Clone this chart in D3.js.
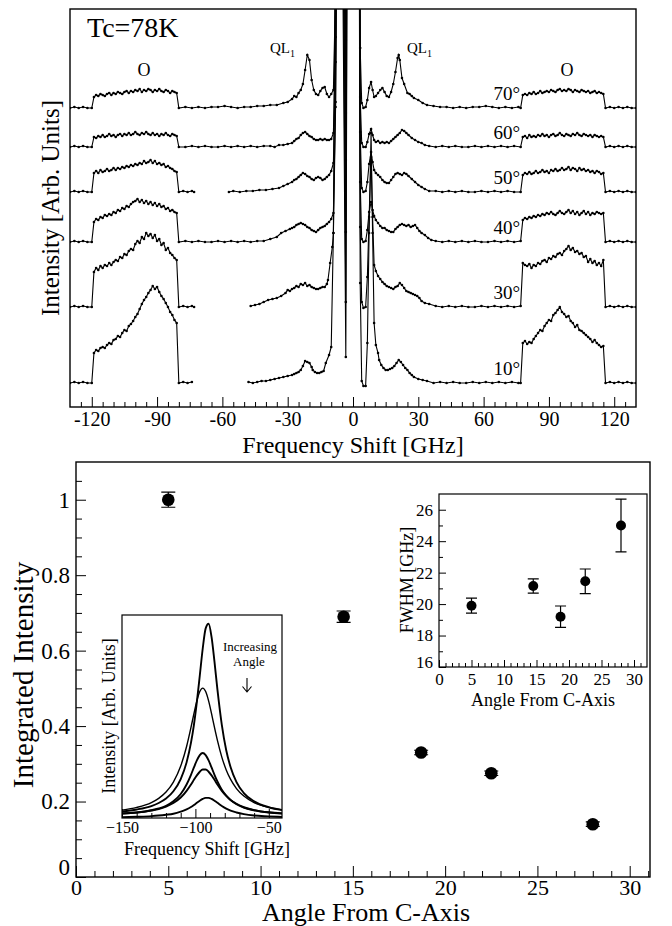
<!DOCTYPE html>
<html>
<head>
<meta charset="utf-8">
<title>Spectra vs angle</title>
<script src="https://cdnjs.cloudflare.com/ajax/libs/d3/7.8.5/d3.min.js"></script>
<style>
body { margin: 0; background: #fff; }
svg text { font-family: "Liberation Serif", "Times New Roman", serif; fill: #000; }
</style>
</head>
<body>
<script>
// ---------- top panel data: stacked spectra, values relative to each trace's baseline
var angles = [70, 60, 50, 40, 30, 10];
var baseOffsets = [299, 260, 215, 165, 100, 24];
var freqTicks = [-120, -90, -60, -30, 0, 30, 60, 90, 120];

var edgeL = [[-130,0],[-128,1],[-126,0],[-124,1],[-122,0],[-120,0]];
var edgeR = [[116,0],[118,1],[120,0],[122,1],[124,0],[126,1],[128,0],[130,0]];
var oLeftStart = -119, oRightStart = 78; // first O-band sample, 1 GHz apart

var oL70 = [11,13,12,14,13,12,14,15,13,15,14,16,15,14,16,17,15,17,16,18,17,19,16,18,17,19,18,16,18,17,19,17,16,18,17,15,17,16,15];
var oL60 = [10,9,11,10,12,10,11,13,11,12,10,12,13,11,13,12,14,12,13,15,13,12,14,13,15,13,12,14,12,13,11,13,12,14,12,11,13,12,11];
var oL50 = [19,21,19,22,20,21,23,21,22,24,22,24,23,25,24,26,25,27,26,28,27,29,28,31,29,30,32,29,31,28,29,27,28,25,26,24,23,21,20];
var oL40 = [20,23,22,25,24,27,26,28,27,30,29,32,31,34,33,36,35,38,40,41,43,40,42,39,41,38,40,37,39,36,38,35,36,33,34,31,32,30,29];
var oL30 = [35,39,37,41,39,42,41,44,42,45,47,46,50,49,53,52,56,58,57,63,66,64,70,68,74,71,73,69,72,66,68,62,64,57,59,54,52,49,47];
var oL10 = [30,33,32,35,36,35,38,40,39,43,44,47,46,50,53,52,57,59,62,66,69,74,79,83,86,90,93,97,94,96,91,87,84,80,76,71,68,63,60];

var oR70 = [13,14,13,15,14,16,14,15,17,15,16,17,16,18,17,16,18,19,17,18,17,19,18,16,18,17,16,18,17,16,17,15,16,17,15,16,15,14];
var oR60 = [10,11,9,12,10,11,10,12,11,13,11,12,10,12,13,11,12,14,12,11,13,12,11,13,12,14,12,11,13,12,11,12,10,12,11,10,11,10];
var oR50 = [17,19,18,20,18,19,21,19,20,22,20,21,19,22,21,23,21,22,24,22,23,25,22,24,23,21,24,22,23,21,22,20,21,19,21,20,18,19];
var oR40 = [22,24,23,25,24,26,25,27,26,28,27,29,28,30,28,27,29,31,29,28,30,32,29,31,28,30,27,29,31,28,30,27,29,28,30,29,28,29];
var oR30 = [44,42,41,43,39,42,41,44,43,46,47,45,49,48,51,50,53,54,52,56,58,61,57,59,55,56,53,54,50,51,45,48,44,46,42,44,41,47];
var oR10 = [40,42,39,41,40,44,47,50,53,52,57,60,63,62,68,70,73,76,71,69,66,67,62,60,56,58,53,52,50,48,46,44,41,43,40,38,36,37];

// between the O bands: [GHz, value]; null = no data; 500 = far off scale
var mid70 = [[-80,0],[-77,1],[-74,0],[-71,1],[-68,0],[-65,1],[-62,1],[-59,2],[-56,1],[-53,0],[-50,1],[-47,1],[-44,2],[-41,2],[-38,3],[-35,3],[-32,5],[-30,6],[-28,9],[-27,12],[-26,11],[-25,15],[-24,18],[-23,24],[-22,38],[-21,53],[-20,48],[-19,28],[-18,18],[-17,14],[-16,13],[-15,17],[-14,20],[-13,21],[-12,14],[-11,11],[-10,14],[-9,18],[-8,120],[-7,500],[-5,500],[-3.3,68],[-2.6,500],[0,500],[2.8,500],[3.3,60],[4,5],[4.8,0],[5.8,1],[6.6,8],[7.4,20],[8.3,26],[9,18],[9.7,11],[10.5,12],[11.5,15],[12.5,18],[13.5,20],[14.5,16],[15.5,12],[16.5,11],[17.5,16],[18.5,24],[19.5,36],[20.5,50],[21,53],[21.5,48],[22.5,30],[23.5,24],[25,15],[26,14],[27,12],[28,10],[30,8],[32,5],[34,3],[37,2],[40,1],[43,1],[46,0],[49,1],[52,0],[55,1],[58,1],[61,2],[64,1],[67,0],[70,1],[73,0],[76,1],[77,0]];
var mid60 = [[-80,0],[-77,0],[-74,1],[-71,0],[-68,1],[-65,0],[-62,0],[-59,1],[-56,0],[-53,1],[-50,0],[-47,1],[-44,0],[-41,1],[-38,1],[-36,0],[-34,2],[-32,2],[-30,3],[-28,4],[-27,6],[-26,8],[-25,9],[-24,12],[-23,14],[-22,15],[-21,13],[-20,11],[-19,10],[-18,8],[-17,7],[-16,7],[-15,8],[-14,7],[-13,8],[-12,7],[-11,7],[-10,8],[-9,14],[-8,110],[-7,500],[-5,500],[-3.3,34],[-2.6,500],[0,500],[2.8,500],[3.3,50],[4,4],[4.8,0],[5.8,0],[6.6,5],[7.4,13],[8.3,18],[9,12],[9.7,7],[10.5,5],[11.5,6],[12.5,4],[13.5,5],[14.5,4],[15.5,5],[16.5,4],[17.5,6],[18.5,8],[19.5,10],[20.5,12],[21.5,14],[22.5,17],[23.5,16],[24.5,14],[25.5,12],[27,9],[28.5,7],[30,5],[31.5,4],[33,2],[35,1],[38,0],[41,1],[44,0],[47,1],[50,0],[53,0],[56,1],[59,0],[62,1],[65,0],[68,1],[71,0],[74,1],[77,0]];
var mid50 = [[-80,0],[-78,1],[-76,0],[-74,1],[-73,0],[-72,null],[-58,null],[-57,0],[-55,1],[-52,0],[-49,1],[-46,1],[-43,2],[-40,2],[-37,3],[-34,4],[-32,6],[-30,8],[-28,10],[-27,12],[-26,13],[-25,15],[-24,17],[-23,19],[-22,18],[-21,16],[-20,15],[-19,13],[-18,12],[-17,14],[-16,15],[-15,14],[-14,12],[-13,13],[-12,15],[-11,17],[-10,21],[-9,29],[-8,130],[-7,500],[-5,500],[-3.3,32],[-2.6,500],[0,500],[2.8,500],[3.3,60],[4,4],[4.8,0],[5.8,1],[6.6,10],[7.4,28],[8.3,40],[9,30],[9.7,22],[10.5,19],[11.5,17],[12.5,15],[13.5,12],[14.5,10],[15.5,9],[16.5,9],[17.5,12],[18.5,15],[19.5,18],[20.5,19],[21.5,18],[22.5,17],[23.5,19],[24.5,18],[25.5,16],[27,13],[28.5,10],[30,7],[31.5,5],[33,3],[35,1],[38,1],[41,0],[44,1],[47,0],[50,1],[53,0],[56,0],[59,1],[62,0],[65,1],[68,0],[71,1],[74,0],[77,0]];
var mid40 = [[-80,0],[-77,1],[-74,0],[-71,1],[-68,0],[-65,0],[-62,1],[-59,0],[-56,1],[-53,0],[-50,1],[-47,0],[-44,1],[-41,1],[-38,3],[-35,5],[-33,9],[-31,11],[-29,13],[-28,14],[-27,15],[-26,17],[-25,18],[-24,19],[-23,18],[-22,17],[-21,15],[-20,14],[-19,12],[-18,11],[-17,10],[-16,12],[-15,14],[-14,15],[-13,16],[-12,18],[-11,20],[-10,23],[-9,29],[-8,140],[-7,500],[-5,500],[-3.3,10],[-2.6,500],[0,500],[2.8,500],[3.3,60],[4,3],[4.8,0],[5.8,1],[6.6,12],[7.4,30],[8.3,40],[9,32],[9.7,26],[10.5,22],[11.5,19],[12.5,16],[13.5,14],[14.5,14],[15.5,12],[16.5,11],[17.5,10],[18.5,10],[19.5,13],[20.5,15],[21.5,17],[22.5,18],[23.5,17],[24.5,16],[25.5,17],[26.5,15],[27.5,16],[28.5,17],[29.5,14],[30.5,11],[31.5,9],[33,7],[34.5,4],[36,2],[38,1],[41,0],[44,1],[47,0],[50,1],[53,0],[56,1],[59,0],[62,0],[65,1],[68,0],[71,1],[74,0],[77,1]];
var mid30 = [[-80,0],[-78,1],[-76,0],[-74,1],[-73,0],[-72,null],[-48,null],[-47,1],[-45,2],[-43,3],[-41,5],[-39,7],[-37,8],[-35,9],[-33,11],[-31,14],[-30,17],[-29,16],[-28,18],[-27,19],[-26,21],[-25,20],[-24,23],[-23,22],[-22,24],[-21,21],[-20,22],[-19,20],[-18,19],[-17,18],[-16,18],[-15,19],[-14,20],[-13,20],[-12,23],[-11.5,27],[-10.5,44],[-9.5,60],[-9,74],[-8,200],[-7,500],[-5,500],[-3.3,5],[-2.6,500],[0,500],[2.8,500],[3.3,80],[4,5],[4.8,-1],[5.8,0],[6.6,30],[7.4,90],[8.3,150],[9,90],[9.7,42],[10.5,36],[11.5,31],[12.5,28],[13.5,25],[14.5,23],[15.5,21],[16.5,20],[17.5,19],[18.5,18],[19.5,20],[20.5,21],[21.5,24],[22.5,22],[23.5,19],[24.5,16],[25.5,15],[26.5,14],[27.5,13],[28.5,12],[29.5,11],[30.5,9],[31.5,6],[33,4],[35,3],[38,1],[41,0],[44,1],[47,0],[50,1],[53,0],[56,0],[59,1],[62,0],[65,1],[68,0],[71,1],[74,0],[77,1]];
var mid10 = [[-80,0],[-78,1],[-76,0],[-74,1],[-73,null],[-49,null],[-48,1],[-46,0],[-44,1],[-42,2],[-40,2],[-38,3],[-36,4],[-34,5],[-32,6],[-30,7],[-28,8],[-27,9],[-26,10],[-25,11],[-24,13],[-23,17],[-22,22],[-21,21],[-20,20],[-19,16],[-18.5,13],[-17.5,11],[-16.5,10],[-15.5,10],[-14.5,11],[-13.5,12],[-12.5,20],[-11,28],[-10,36],[-9,150],[-8,500],[-5,500],[-3.3,26],[-2.6,500],[0,500],[2.8,500],[3.3,100],[4,2],[4.8,-3],[5.8,-3],[6.6,40],[7.4,150],[8.3,250],[9,150],[9.7,60],[10.5,38],[11.5,30],[12,23],[13,18],[14,15],[15,13],[16,13],[17,14],[18,15],[19,17],[20,20],[21,23],[22,21],[23,18],[24,15],[25,13],[26,10],[27,8],[28,6],[30,4],[32,3],[34,2],[37,0],[40,1],[43,0],[46,1],[49,0],[52,0],[55,1],[58,0],[61,1],[64,0],[67,1],[70,0],[73,1],[76,0],[77,0]];

// ---------- bottom panel data
var angleDeg = [5, 14.5, 18.7, 22.5, 28];
var intInt = [1.0, 0.69, 0.33, 0.275, 0.14];
var intErr = [0.02, 0.015, 0.006, 0.006, 0.006];
var fwhm = [19.9, 21.15, 19.2, 21.45, 25.0];
var fwhmErr = [0.48, 0.45, 0.68, 0.78, 1.68];

// fitted line shapes of the inset
var fitX = [-150,-140,-130,-125,-120,-115,-110,-106,-103,-101,-99,-97,-95,-93,-91,-89,-87,-85,-82,-79,-76,-72,-67,-60,-50,-41];
var fit1 = [0.032,0.042,0.059,0.074,0.096,0.132,0.192,0.274,0.371,0.459,0.572,0.702,0.835,0.934,0.957,0.892,0.770,0.634,0.459,0.334,0.250,0.177,0.123,0.082,0.053,0.039];
var fit2 = [0.039,0.052,0.076,0.097,0.128,0.177,0.256,0.352,0.446,0.514,0.577,0.623,0.640,0.623,0.577,0.514,0.446,0.382,0.300,0.237,0.190,0.145,0.108,0.076,0.052,0.040];
var fit3 = [0.022,0.027,0.038,0.047,0.060,0.082,0.118,0.165,0.213,0.249,0.284,0.310,0.320,0.310,0.284,0.249,0.213,0.180,0.139,0.110,0.088,0.068,0.051,0.038,0.027,0.022];
var fit4 = [0.022,0.027,0.037,0.044,0.056,0.074,0.101,0.134,0.165,0.188,0.210,0.228,0.239,0.239,0.228,0.210,0.188,0.165,0.134,0.109,0.089,0.070,0.053,0.039,0.028,0.023];
var fit5 = [0.004,0.006,0.009,0.012,0.016,0.021,0.031,0.042,0.054,0.064,0.075,0.085,0.094,0.099,0.099,0.094,0.085,0.075,0.059,0.046,0.036,0.027,0.019,0.012,0.008,0.005];

var traces = [
  {oL: oL70, mid: mid70, oR: oR70},
  {oL: oL60, mid: mid60, oR: oR60},
  {oL: oL50, mid: mid50, oR: oR50},
  {oL: oL40, mid: mid40, oR: oR40},
  {oL: oL30, mid: mid30, oR: oR30},
  {oL: oL10, mid: mid10, oR: oR10}
];
traces.forEach(function(t, i) { t.angle = angles[i]; t.off = baseOffsets[i]; });

function buildTrace(t) {
  return edgeL.concat(
    t.oL.map(function(v, i) { return [oLeftStart + i, v]; }),
    t.mid,
    t.oR.map(function(v, i) { return [oRightStart + i, v]; }),
    edgeR);
}

var FONT = '"Liberation Serif", "Times New Roman", serif';
var svg = d3.select("body").append("svg").attr("width", 672).attr("height", 926);

function styleAxis(g, size) {
  g.attr("font-family", FONT).attr("font-size", size);
  g.select(".domain").remove();
  g.selectAll("line").attr("stroke", "#000").attr("stroke-width", 1);
  g.selectAll("text").attr("fill", "#000");
}

// ================= top panel =================
var xT = d3.scaleLinear().domain([-130, 130]).range([70, 636]);
var yT = d3.scaleLinear().domain([0, 398]).range([407, 9]);

svg.append("clipPath").attr("id", "clipTop").append("rect")
  .attr("x", 70).attr("y", 9).attr("width", 566).attr("height", 398);

var gTop = svg.append("g").attr("clip-path", "url(#clipTop)");
traces.forEach(function(t) {
  var pts = buildTrace(t);
  var line = d3.line()
    .defined(function(d) { return d[1] !== null; })
    .x(function(d) { return xT(d[0]); })
    .y(function(d) { return yT(t.off + d[1]); });
  gTop.append("path").attr("d", line(pts))
    .attr("fill", "none").attr("stroke", "#000").attr("stroke-width", 1.1);
  gTop.selectAll(null)
    .data(pts.filter(function(d) { return d[1] !== null; }))
    .enter().append("circle")
    .attr("cx", function(d) { return xT(d[0]); })
    .attr("cy", function(d) { return yT(t.off + d[1]); })
    .attr("r", 1.3).attr("fill", "#000");
});

svg.append("rect").attr("x", 70).attr("y", 9).attr("width", 566).attr("height", 398)
  .attr("fill", "none").attr("stroke", "#000").attr("stroke-width", 1.4);

svg.append("g").attr("transform", "translate(0,407)")
  .call(d3.axisBottom(xT).tickValues(freqTicks).tickSize(-10).tickPadding(5)
    .tickFormat(function(d) { return d; }))
  .call(styleAxis, 20);
svg.append("g").attr("transform", "translate(0,407)")
  .call(d3.axisBottom(xT).tickValues(d3.range(-125, 130, 5).filter(function(v) { return v % 30 !== 0; }))
    .tickSize(-5).tickFormat(""))
  .call(styleAxis, 20);

svg.append("text").attr("x", 353).attr("y", 453).attr("text-anchor", "middle")
  .attr("font-size", 24).text("Frequency Shift [GHz]");
svg.append("text").attr("transform", "translate(59,208) rotate(-90)").attr("text-anchor", "middle")
  .attr("font-size", 25).text("Intensity [Arb. Units]");
svg.append("text").attr("x", 87).attr("y", 37).attr("font-size", 28).text("Tc=78K");
svg.append("text").attr("x", 144).attr("y", 76).attr("text-anchor", "middle").attr("font-size", 18).text("O");
svg.append("text").attr("x", 567).attr("y", 76).attr("text-anchor", "middle").attr("font-size", 18).text("O");
[270, 407].forEach(function(x) {
  var t = svg.append("text").attr("x", x).attr("y", 53).attr("font-size", 15);
  t.append("tspan").text("QL");
  t.append("tspan").attr("font-size", 10).attr("dy", 4).text("1");
});
traces.forEach(function(t) {
  svg.append("text").attr("x", 520).attr("y", yT(t.off) - 8).attr("text-anchor", "end")
    .attr("font-size", 19).text(t.angle + "°");
});

// ================= bottom panel =================
var xB = d3.scaleLinear().domain([0, 31.1]).range([76, 650]);
var yB = d3.scaleLinear().domain([0, 1.1]).range([877, 462]);

svg.append("rect").attr("x", 76).attr("y", 462).attr("width", 574).attr("height", 415)
  .attr("fill", "none").attr("stroke", "#000").attr("stroke-width", 1.4);

svg.append("g").attr("transform", "translate(0,877)")
  .call(d3.axisBottom(xB).tickValues(d3.range(0, 31, 5)).tickSize(-11).tickPadding(2))
  .call(styleAxis, 22);
svg.append("g").attr("transform", "translate(0,877)")
  .call(d3.axisBottom(xB).tickValues(d3.range(1, 32).filter(function(v) { return v % 5 !== 0; }))
    .tickSize(-6).tickFormat(""))
  .call(styleAxis, 22);
svg.append("g").attr("transform", "translate(76,0)")
  .call(d3.axisLeft(yB).tickValues([0, 0.2, 0.4, 0.6, 0.8, 1]).tickSize(-10).tickPadding(6)
    .tickFormat(function(d) { return d3.format("~g")(d); }))
  .call(styleAxis, 23)
  .call(function(g) { g.selectAll(".tick text").filter(function(d) { return d === 0; }).attr("dy", "-0.1em"); });
svg.append("g").attr("transform", "translate(76,0)")
  .call(d3.axisLeft(yB).tickValues(d3.range(1, 22).filter(function(v) { return v % 4 !== 0; })
    .map(function(v) { return v * 0.05; })).tickSize(-6).tickFormat(""))
  .call(styleAxis, 23);

svg.append("text").attr("x", 366).attr("y", 921).attr("text-anchor", "middle")
  .attr("font-size", 26).text("Angle From C-Axis");
svg.append("text").attr("transform", "translate(33,675) rotate(-90)").attr("text-anchor", "middle")
  .attr("font-size", 29).text("Integrated Intensity");

var mainPts = angleDeg.map(function(a, i) { return {x: a, y: intInt[i], e: intErr[i]}; });
var gMain = svg.append("g");
gMain.selectAll(".eb").data(mainPts).enter().append("path")
  .attr("d", function(d) {
    var x = xB(d.x), y0 = yB(d.y - d.e), y1 = yB(d.y + d.e);
    return "M" + x + "," + y0 + "V" + y1 + "M" + (x - 7) + "," + y0 + "H" + (x + 7) +
      "M" + (x - 7) + "," + y1 + "H" + (x + 7);
  })
  .attr("stroke", "#000").attr("stroke-width", 1.2).attr("fill", "none");
gMain.selectAll("circle").data(mainPts).enter().append("circle")
  .attr("cx", function(d) { return xB(d.x); }).attr("cy", function(d) { return yB(d.y); })
  .attr("r", 6.3).attr("fill", "#000");

// ---- inset: FWHM
var xF = d3.scaleLinear().domain([0, 32]).range([439, 647]);
var yF = d3.scaleLinear().domain([16, 27]).range([667, 494]);
svg.append("rect").attr("x", 439).attr("y", 494).attr("width", 208).attr("height", 173)
  .attr("fill", "#fff").attr("stroke", "#000").attr("stroke-width", 1.2);
svg.append("g").attr("transform", "translate(0,667)")
  .call(d3.axisBottom(xF).tickValues(d3.range(0, 31, 5)).tickSize(-7).tickPadding(6))
  .call(styleAxis, 17);
svg.append("g").attr("transform", "translate(0,667)")
  .call(d3.axisBottom(xF).tickValues(d3.range(1, 32).filter(function(v) { return v % 5 !== 0; }))
    .tickSize(-4).tickFormat(""))
  .call(styleAxis, 17);
svg.append("g").attr("transform", "translate(439,0)")
  .call(d3.axisLeft(yF).tickValues(d3.range(16, 27, 2)).tickSize(-7).tickPadding(6))
  .call(styleAxis, 17)
  .call(function(g) { g.selectAll(".tick text").filter(function(d) { return d === 16; }).attr("dy", "0.05em"); });
svg.append("g").attr("transform", "translate(439,0)")
  .call(d3.axisLeft(yF).tickValues(d3.range(17, 27, 2)).tickSize(-4).tickFormat(""))
  .call(styleAxis, 17);
svg.append("text").attr("x", 543).attr("y", 706).attr("text-anchor", "middle")
  .attr("font-size", 18).text("Angle From C-Axis");
svg.append("text").attr("transform", "translate(413,580) rotate(-90)").attr("text-anchor", "middle")
  .attr("font-size", 18).text("FWHM [GHz]");

var fwPts = angleDeg.map(function(a, i) { return {x: a, y: fwhm[i], e: fwhmErr[i]}; });
svg.append("g").selectAll("path").data(fwPts).enter().append("path")
  .attr("d", function(d) {
    var x = xF(d.x), y0 = yF(d.y - d.e), y1 = yF(d.y + d.e);
    return "M" + x + "," + y0 + "V" + y1 + "M" + (x - 5.5) + "," + y0 + "H" + (x + 5.5) +
      "M" + (x - 5.5) + "," + y1 + "H" + (x + 5.5);
  })
  .attr("stroke", "#000").attr("stroke-width", 1.2).attr("fill", "none");
svg.append("g").selectAll("circle").data(fwPts).enter().append("circle")
  .attr("cx", function(d) { return xF(d.x); }).attr("cy", function(d) { return yF(d.y); })
  .attr("r", 5).attr("fill", "#000");

// ---- inset: fitted line shapes
var xL = d3.scaleLinear().domain([-150, -41]).range([122, 282]);
var yL = d3.scaleLinear().domain([0, 1]).range([818, 615]);
svg.append("rect").attr("x", 122).attr("y", 615).attr("width", 160).attr("height", 203)
  .attr("fill", "#fff").attr("stroke", "#000").attr("stroke-width", 1.2);
svg.append("clipPath").attr("id", "clipFit").append("rect")
  .attr("x", 122).attr("y", 615).attr("width", 160).attr("height", 203);
var fitLine = d3.line().curve(d3.curveMonotoneX)
  .x(function(d) { return xL(d[0]); }).y(function(d) { return yL(d[1]); });
var gFit = svg.append("g").attr("clip-path", "url(#clipFit)");
[fit1, fit2, fit3, fit4, fit5].forEach(function(f, k) {
  gFit.append("path").attr("d", fitLine(fitX.map(function(x, i) { return [x, f[i]]; })))
    .attr("fill", "none").attr("stroke", "#000").attr("stroke-width", k === 1 ? 1.4 : 1.9);
});
svg.append("g").attr("transform", "translate(0,818)")
  .call(d3.axisBottom(xL).tickValues([-150, -100, -50]).tickSize(-9).tickPadding(4))
  .call(styleAxis, 16);
svg.append("g").attr("transform", "translate(0,818)")
  .call(d3.axisBottom(xL).tickValues([-140, -130, -120, -110, -90, -80, -70, -60]).tickSize(-5).tickFormat(""))
  .call(styleAxis, 16);
svg.append("text").attr("x", 207).attr("y", 855).attr("text-anchor", "middle")
  .attr("font-size", 18).text("Frequency Shift [GHz]");
svg.append("text").attr("transform", "translate(115,716) rotate(-90)").attr("text-anchor", "middle")
  .attr("font-size", 18).text("Intensity [Arb. Units]");
svg.append("text").attr("x", 250).attr("y", 651).attr("text-anchor", "middle")
  .attr("font-size", 13).text("Increasing");
svg.append("text").attr("x", 249).attr("y", 666).attr("text-anchor", "middle")
  .attr("font-size", 13).text("Angle");
svg.append("path").attr("d", "M247,678V692M242.5,686.5L247,692L251.5,686.5")
  .attr("fill", "none").attr("stroke", "#000").attr("stroke-width", 1.1);
</script>
</body>
</html>
